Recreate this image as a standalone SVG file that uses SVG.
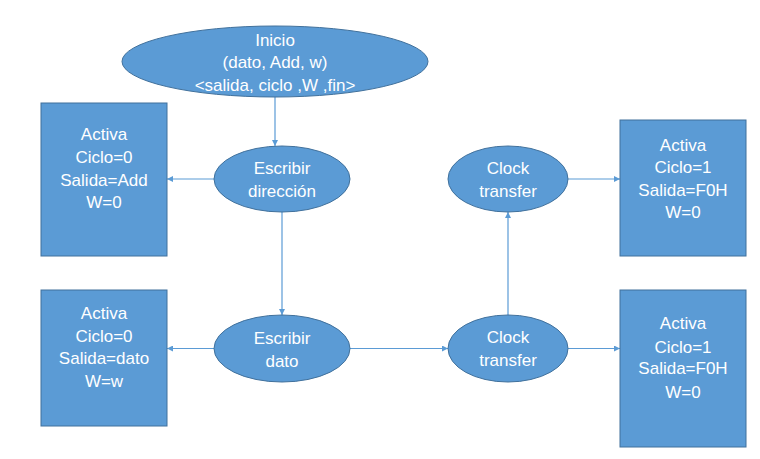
<svg xmlns="http://www.w3.org/2000/svg" width="760" height="459" viewBox="0 0 760 459">
<style>
.n{fill:#5B9BD5;stroke:#41719C;stroke-width:1}
.t{font-family:"Liberation Sans",Arial,sans-serif;font-size:17px;fill:#FFFFFF;text-anchor:middle}
.c{stroke:#5B9BD5;stroke-width:1.2;fill:none;marker-end:url(#ah)}
</style>
<defs>
<marker id="ah" viewBox="0 0 10 10" refX="10" refY="5" markerWidth="6" markerHeight="6" markerUnits="userSpaceOnUse" orient="auto">
<path d="M0,0 L10,5 L0,10 z" fill="#5B9BD5"/>
</marker>
</defs>
<rect width="760" height="459" fill="#FFFFFF"/>
<g id="connectors">
<line class="c" x1="275" y1="97" x2="275" y2="146"/>
<line class="c" x1="214" y1="179" x2="167" y2="179"/>
<line class="c" x1="282" y1="212" x2="282" y2="315"/>
<line class="c" x1="214" y1="348.5" x2="167" y2="348.5"/>
<line class="c" x1="350" y1="348.5" x2="448" y2="348.5"/>
<line class="c" x1="508" y1="315" x2="508" y2="212"/>
<line class="c" x1="568" y1="179" x2="620" y2="179"/>
<line class="c" x1="568" y1="348.5" x2="620" y2="348.5"/>
</g>
<g id="inicio">
<ellipse class="n" cx="275" cy="61.5" rx="153" ry="35.5"/>
<text class="t" x="275" y="45.7">Inicio</text>
<text class="t" x="275" y="68.4">(dato, Add, w)</text>
<text class="t" x="275" y="91">&lt;salida, ciclo ,W ,fin&gt;</text>
</g>
<g id="escribir-direccion">
<ellipse class="n" cx="282" cy="179" rx="68" ry="33"/>
<text class="t" x="282" y="174">Escribir</text>
<text class="t" x="282" y="197">dirección</text>
</g>
<g id="escribir-dato">
<ellipse class="n" cx="282" cy="348.5" rx="68" ry="33.5"/>
<text class="t" x="282" y="344">Escribir</text>
<text class="t" x="282" y="367">dato</text>
</g>
<g id="clock-transfer-1">
<ellipse class="n" cx="508" cy="179" rx="60" ry="33"/>
<text class="t" x="508" y="174">Clock</text>
<text class="t" x="508" y="197">transfer</text>
</g>
<g id="clock-transfer-2">
<ellipse class="n" cx="508" cy="348.5" rx="60" ry="33.5"/>
<text class="t" x="508" y="343">Clock</text>
<text class="t" x="508" y="366">transfer</text>
</g>
<g id="activa-add">
<rect class="n" x="41" y="103" width="126" height="153"/>
<text class="t" x="104" y="140">Activa</text>
<text class="t" x="104" y="163">Ciclo=0</text>
<text class="t" x="104" y="185.5">Salida=Add</text>
<text class="t" x="104" y="208">W=0</text>
</g>
<g id="activa-dato">
<rect class="n" x="41" y="290" width="126" height="136"/>
<text class="t" x="104" y="319">Activa</text>
<text class="t" x="104" y="342">Ciclo=0</text>
<text class="t" x="104" y="364">Salida=dato</text>
<text class="t" x="104" y="387">W=w</text>
</g>
<g id="activa-f0h-1">
<rect class="n" x="620" y="120" width="126" height="136"/>
<text class="t" x="683" y="151">Activa</text>
<text class="t" x="683" y="173">Ciclo=1</text>
<text class="t" x="683" y="196">Salida=F0H</text>
<text class="t" x="683" y="218">W=0</text>
</g>
<g id="activa-f0h-2">
<rect class="n" x="620" y="290" width="126" height="157"/>
<text class="t" x="683" y="329">Activa</text>
<text class="t" x="683" y="353">Ciclo=1</text>
<text class="t" x="683" y="374">Salida=F0H</text>
<text class="t" x="683" y="398">W=0</text>
</g>
</svg>
